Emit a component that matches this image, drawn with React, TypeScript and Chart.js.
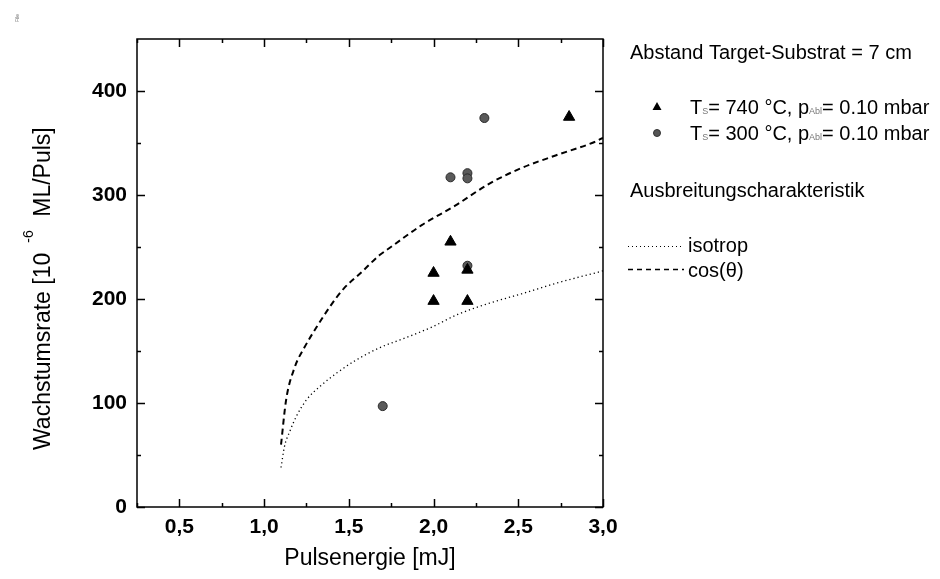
import React, { useEffect, useRef } from "react";
import { Chart, registerables } from "chart.js";

Chart.register(...registerables);

// ---- data ----
const xTicks = [0.5, 1.0, 1.5, 2.0, 2.5, 3.0];
const xMinorTicks = [0.25, 0.75, 1.25, 1.75, 2.25, 2.75];
const yTicks = [0, 100, 200, 300, 400];
const yMinorTicks = [50, 150, 250, 350];

const tri740X = [2.0, 2.0, 2.1, 2.2, 2.2, 2.8];
const tri740Y = [198, 225, 255, 198, 228, 375];

const circ300X = [1.7, 2.1, 2.2, 2.2, 2.2, 2.3];
const circ300Y = [97, 317, 321, 316, 232, 374];

const isotropX = [1.10, 1.12, 1.15, 1.19, 1.25, 1.33, 1.43, 1.54, 1.68, 1.84, 1.99, 2.14, 2.33, 2.52, 2.72, 3.0];
const isotropY = [38, 58, 72, 87, 103, 116, 129, 141, 153, 163, 173, 185, 196, 205, 215, 227];

const cosX = [1.10, 1.13, 1.18, 1.24, 1.31, 1.39, 1.47, 1.57, 1.68, 1.74, 1.93, 2.13, 2.33, 2.52, 2.72, 2.95, 3.0];
const cosY = [60, 103, 134, 154, 173, 193, 210, 225, 242, 249, 271, 290, 311, 326, 338, 351, 355];

const FONT = "'Liberation Sans', Arial, Helvetica, sans-serif";

const toXY = (xs: number[], ys: number[]) => xs.map((x, i) => ({ x, y: ys[i] }));

const framePlugin = {
  id: "frame",
  afterDatasetsDraw(chart: any) {
    const { ctx, chartArea: a, scales } = chart;
    const xs = scales.x;
    const ys = scales.y;
    ctx.save();
    ctx.strokeStyle = "#000";
    ctx.lineWidth = 1.5;
    ctx.setLineDash([]);
    ctx.strokeRect(a.left, a.top, a.right - a.left, a.bottom - a.top);
    const major = 8;
    const minor = 4;
    ctx.beginPath();
    const xt = (v: number, len: number) => {
      const px = Math.round(xs.getPixelForValue(v)) + 0.5;
      ctx.moveTo(px, a.bottom);
      ctx.lineTo(px, a.bottom - len);
      ctx.moveTo(px, a.top);
      ctx.lineTo(px, a.top + len);
    };
    const yt = (v: number, len: number) => {
      const py = Math.round(ys.getPixelForValue(v)) + 0.5;
      ctx.moveTo(a.left, py);
      ctx.lineTo(a.left + len, py);
      ctx.moveTo(a.right, py);
      ctx.lineTo(a.right - len, py);
    };
    xTicks.forEach((v) => xt(v, major));
    xMinorTicks.forEach((v) => xt(v, minor));
    yTicks.forEach((v) => yt(v, major));
    yMinorTicks.forEach((v) => yt(v, minor));
    ctx.stroke();
    ctx.restore();
  },
};

const textPlugin = {
  id: "texts",
  afterDraw(chart: any) {
    const { ctx, chartArea: a } = chart;
    ctx.save();
    ctx.fillStyle = "#000";
    ctx.textBaseline = "alphabetic";

    // x-axis title
    ctx.font = `23px ${FONT}`;
    ctx.textAlign = "center";
    ctx.fillText("Pulsenergie [mJ]", (a.left + a.right) / 2, 565);

    // y-axis title (rotated)
    ctx.save();
    ctx.translate(50, 450);
    ctx.rotate(-Math.PI / 2);
    ctx.textAlign = "left";
    ctx.font = `23px ${FONT}`;
    const p1 = "Wachstumsrate [10";
    ctx.fillText(p1, 0, 0);
    const w1 = ctx.measureText(p1).width;
    ctx.font = `14px ${FONT}`;
    ctx.fillText("-6", w1 + 10, -17);
    ctx.font = `23px ${FONT}`;
    ctx.fillText("ML/Puls]", w1 + 36, 0);
    ctx.restore();

    // tiny corner mark
    ctx.save();
    ctx.translate(19, 22);
    ctx.rotate(-Math.PI / 2);
    ctx.font = `5px ${FONT}`;
    ctx.fillStyle = "#666";
    ctx.textAlign = "left";
    ctx.fillText("File", 0, 0);
    ctx.restore();

    // legend block
    ctx.textAlign = "left";
    ctx.font = `20px ${FONT}`;
    ctx.fillText("Abstand Target-Substrat = 7 cm", 630, 59);

    const row = (yBase: number, temp: string) => {
      let x = 690;
      ctx.font = `20px ${FONT}`;
      ctx.fillStyle = "#000";
      ctx.fillText("T", x, yBase);
      x += ctx.measureText("T").width;
      ctx.font = `9px ${FONT}`;
      ctx.fillStyle = "#777";
      ctx.fillText("S", x, yBase);
      x += ctx.measureText("S").width;
      ctx.font = `20px ${FONT}`;
      ctx.fillStyle = "#000";
      const mid = `= ${temp} °C, p`;
      ctx.fillText(mid, x, yBase);
      x += ctx.measureText(mid).width;
      ctx.font = `9px ${FONT}`;
      ctx.fillStyle = "#777";
      ctx.fillText("Abl", x, yBase);
      x += ctx.measureText("Abl").width;
      ctx.font = `20px ${FONT}`;
      ctx.fillStyle = "#000";
      ctx.fillText("= 0.10 mbar", x, yBase);
    };
    row(114, "740");
    row(140, "300");

    // legend markers
    ctx.fillStyle = "#000";
    ctx.beginPath();
    ctx.moveTo(657, 102);
    ctx.lineTo(661.5, 110);
    ctx.lineTo(652.5, 110);
    ctx.closePath();
    ctx.fill();
    ctx.beginPath();
    ctx.arc(657, 133, 3.5, 0, Math.PI * 2);
    ctx.fillStyle = "#555";
    ctx.fill();
    ctx.strokeStyle = "#333";
    ctx.lineWidth = 1;
    ctx.stroke();

    ctx.fillStyle = "#000";
    ctx.font = `20px ${FONT}`;
    ctx.fillText("Ausbreitungscharakteristik", 630, 197);

    ctx.strokeStyle = "#000";
    ctx.lineWidth = 1.2;
    ctx.setLineDash([1, 3]);
    ctx.beginPath();
    ctx.moveTo(628, 246.5);
    ctx.lineTo(683, 246.5);
    ctx.stroke();
    ctx.setLineDash([5, 4]);
    ctx.lineWidth = 1.5;
    ctx.beginPath();
    ctx.moveTo(628, 269.5);
    ctx.lineTo(684, 269.5);
    ctx.stroke();
    ctx.setLineDash([]);
    ctx.fillText("isotrop", 688, 252);
    ctx.fillText("cos(θ)", 688, 277);

    ctx.restore();
  },
};

export default function App() {
  const ref = useRef<HTMLCanvasElement | null>(null);

  useEffect(() => {
    if (!ref.current) return;
    const chart = new Chart(ref.current, {
      type: "scatter",
      data: {
        datasets: [
          {
            label: "isotrop",
            data: toXY(isotropX, isotropY),
            showLine: true,
            borderColor: "#000",
            borderWidth: 1.3,
            borderDash: [1.2, 3],
            pointRadius: 0,
            cubicInterpolationMode: "monotone",
            fill: false,
          },
          {
            label: "cos(θ)",
            data: toXY(cosX, cosY),
            showLine: true,
            borderColor: "#000",
            borderWidth: 2,
            borderDash: [6, 4],
            pointRadius: 0,
            cubicInterpolationMode: "monotone",
            fill: false,
          },
          {
            label: "TS= 740 °C",
            data: toXY(tri740X, tri740Y),
            pointStyle: "triangle",
            pointRadius: 6.5,
            backgroundColor: "#000",
            borderColor: "#000",
            borderWidth: 1,
          },
          {
            label: "TS= 300 °C",
            data: toXY(circ300X, circ300Y),
            pointStyle: "circle",
            pointRadius: 4.5,
            backgroundColor: "#5a5a5a",
            borderColor: "#2a2a2a",
            borderWidth: 1,
          },
        ],
      },
      options: {
        animation: false,
        responsive: false,
        maintainAspectRatio: false,
        layout: { padding: { top: 39, right: 337, left: 0, bottom: 0 } },
        plugins: {
          legend: { display: false },
          tooltip: { enabled: false },
          title: { display: false },
        },
        scales: {
          x: {
            type: "linear",
            min: 0.25,
            max: 3.0,
            grid: { display: false, drawTicks: false, tickLength: 0 },
            border: { display: false },
            afterBuildTicks: (s: any) => {
              s.ticks = xTicks.map((v) => ({ value: v }));
            },
            afterFit: (s: any) => {
              s.height = 72;
            },
            ticks: {
              padding: 8,
              color: "#000",
              font: { family: FONT, size: 21, weight: "bold" },
              maxRotation: 0,
              autoSkip: false,
              callback: (v: any) => Number(v).toFixed(1).replace(".", ","),
            },
          },
          y: {
            type: "linear",
            min: 0,
            max: 450,
            grid: { display: false, drawTicks: false, tickLength: 0 },
            border: { display: false },
            afterBuildTicks: (s: any) => {
              s.ticks = yTicks.map((v) => ({ value: v }));
            },
            afterFit: (s: any) => {
              s.width = 137;
            },
            ticks: {
              padding: 10,
              color: "#000",
              font: { family: FONT, size: 21, weight: "bold" },
              autoSkip: false,
              callback: (v: any) => String(v),
            },
          },
        },
      },
      plugins: [framePlugin, textPlugin],
    } as any);
    return () => chart.destroy();
  }, []);

  return (
    <div style={{ position: "absolute", left: 0, top: 0, width: 940, height: 579, background: "#fff" }}>
      <canvas ref={ref} width={940} height={579} style={{ display: "block", width: 940, height: 579 }} />
    </div>
  );
}
